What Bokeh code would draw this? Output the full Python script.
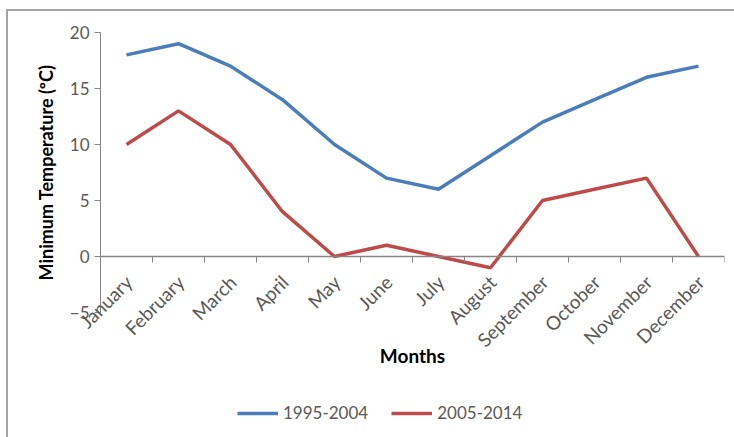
import numpy as np
from math import pi
from bokeh.plotting import figure
from bokeh.models import (Range1d, FixedTicker, LabelSet, Label, ColumnDataSource,
                          Legend, LegendItem)
from bokeh.core.properties import value
from bokeh.embed import file_html
from bokeh.resources import INLINE

months = ["January", "February", "March", "April", "May", "June", "July",
          "August", "September", "October", "November", "December"]
series_1995_2004 = [18, 19, 17, 14, 10, 7, 6, 9, 12, 14, 16, 17]
series_2005_2014 = [10, 13, 10, 4, 0, 1, 0, -1, 5, 6, 7, 0]
y_ticks = [-5, 0, 5, 10, 15, 20]

FONT = "Lato"
GRAY = "#868686"
TXT = "#595959"
BORDER = "#a6a6a6"

W, H = 734, 437
PLOT_L, PLOT_T, PLOT_R, PLOT_B = 100, 32, 724, 312   # page pixels of the axis box
FRAME_L, FRAME_T, FRAME_B = 34, 14, 425               # drawing frame is larger than the axis box
px_y = (PLOT_B - PLOT_T) / (max(y_ticks) - min(y_ticks))
px_x = (PLOT_R - PLOT_L) / len(months)
y_low = max(y_ticks) - (FRAME_B - PLOT_T) / px_y
y_high = max(y_ticks) + (PLOT_T - FRAME_T) / px_y
x_low = -(PLOT_L - FRAME_L) / px_x

xs = np.arange(len(months)) + 0.5

p = figure(width=W, height=H, output_backend="svg", toolbar_location=None,
           x_range=Range1d(x_low, len(months)), y_range=Range1d(y_low, y_high),
           min_border_left=FRAME_L, min_border_right=W - PLOT_R,
           min_border_top=FRAME_T, min_border_bottom=H - FRAME_B)
# outer chart border (top and left edges) painted behind a transparent canvas
p.styles = {"background": (f"linear-gradient({BORDER}, {BORDER}) 6px 9px / 2px 100% no-repeat, "
                           f"linear-gradient({BORDER}, {BORDER}) 6px 9px / 100% 2px no-repeat, "
                           "#ffffff")}
p.outline_line_color = None
p.grid.visible = False
p.background_fill_alpha = 0
p.border_fill_alpha = 0

# y axis, drawn at x = 0
ya = p.yaxis[0]
ya.fixed_location = 0
ya.ticker = FixedTicker(ticks=y_ticks)
ya.bounds = (min(y_ticks), max(y_ticks))
ya.axis_line_color = GRAY
ya.major_tick_line_color = GRAY
ya.major_tick_out = 6
ya.major_tick_in = 0
ya.minor_tick_line_color = None
ya.major_label_standoff = 5
ya.major_label_text_font = FONT
ya.major_label_text_font_size = "17px"
ya.major_label_text_color = TXT

# x axis, drawn at y = 0
xa = p.xaxis[0]
xa.fixed_location = 0
xa.ticker = FixedTicker(ticks=list(range(len(months) + 1)))
xa.bounds = (0, len(months))
xa.axis_line_color = GRAY
xa.axis_line_width = 1.5
xa.major_tick_line_color = GRAY
xa.major_tick_out = 6
xa.major_tick_in = 0
xa.minor_tick_line_color = None
xa.major_label_standoff = 0
xa.major_label_text_font_size = "0px"
xa.major_label_text_alpha = 0

r1 = p.line(xs, series_1995_2004, line_color="#4A7EBB", line_width=3.5)
r2 = p.line(xs, series_2005_2014, line_color="#BE4B48", line_width=3.5)

src = ColumnDataSource(dict(x=xs, y=[0] * len(months), t=months))
p.add_layout(LabelSet(x="x", y="y", text="t", source=src, angle=pi / 4,
                      x_offset=-6, y_offset=-14, text_align="right",
                      text_baseline="top", text_font=value(FONT),
                      text_font_size=value("19px"), text_color=TXT))

p.add_layout(Label(x=0, y=(min(y_ticks) + max(y_ticks)) / 2, x_offset=-55,
                   text="Minimum Temperature (ºC)", angle=pi / 2,
                   text_align="center", text_baseline="middle",
                   text_font=FONT, text_font_style="bold", text_font_size="18px",
                   text_color="#000000"))
p.add_layout(Label(x=len(months) / 2, y=min(y_ticks), y_offset=-43, text="Months",
                   text_align="center", text_baseline="middle",
                   text_font=FONT, text_font_style="bold", text_font_size="19px",
                   text_color="#000000"))

legend = Legend(items=[LegendItem(label="1995-2004", renderers=[r1]),
                       LegendItem(label="2005-2014", renderers=[r2])],
                orientation="horizontal", location=(237 - FRAME_L, 2),
                padding=0, margin=0, spacing=23, glyph_width=41,
                label_standoff=5, border_line_color=None,
                background_fill_alpha=0, label_text_font=FONT,
                label_text_font_size="17px", label_text_color=TXT)
p.add_layout(legend)

open("out.html", "w").write(file_html(p, INLINE))
